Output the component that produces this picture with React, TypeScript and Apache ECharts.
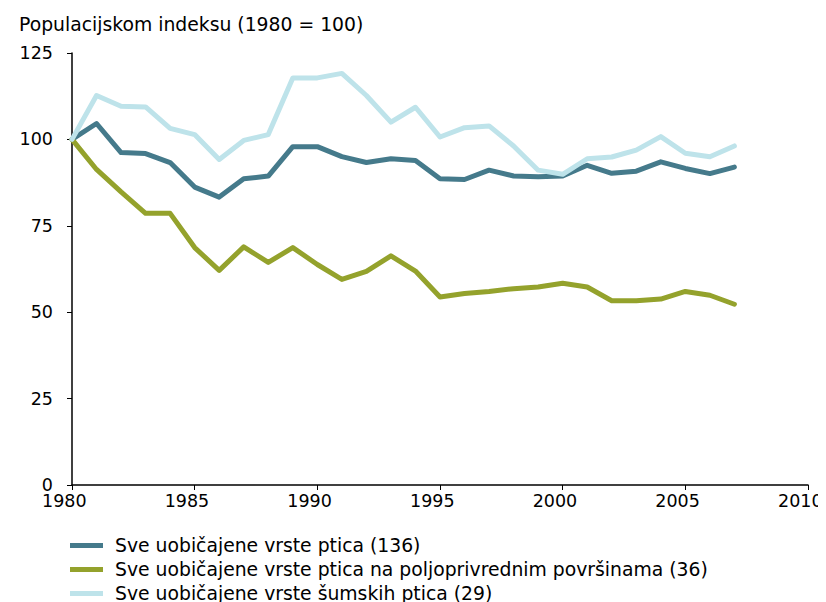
import React, { useEffect, useRef } from "react";
import * as echarts from "echarts";

const years = [1980, 1981, 1982, 1983, 1984, 1985, 1986, 1987, 1988, 1989, 1990, 1991, 1992, 1993, 1994, 1995, 1996, 1997, 1998, 1999, 2000, 2001, 2002, 2003, 2004, 2005, 2006, 2007];
const allBirds = [100, 104.6, 96.2, 95.9, 93.3, 86.2, 83.3, 88.6, 89.4, 97.9, 97.9, 95.0, 93.3, 94.4, 93.9, 88.6, 88.4, 91.1, 89.4, 89.2, 89.4, 92.5, 90.2, 90.8, 93.5, 91.6, 90.1, 92.0];
const farmBirds = [100, 91.3, 84.8, 78.6, 78.6, 68.7, 62.1, 68.9, 64.4, 68.7, 63.8, 59.5, 61.8, 66.3, 61.9, 54.4, 55.4, 56.0, 56.8, 57.3, 58.4, 57.3, 53.3, 53.3, 53.8, 56.0, 54.9, 52.3];
const forestBirds = [100, 112.7, 109.6, 109.4, 103.2, 101.4, 94.2, 99.7, 101.4, 117.8, 117.8, 119.1, 112.7, 105.0, 109.3, 100.7, 103.4, 103.9, 98.1, 91.1, 89.9, 94.4, 94.9, 96.9, 100.8, 96.0, 95.0, 98.1];
const seriesNames = [
  "Sve uobičajene vrste ptica (136)",
  "Sve uobičajene vrste ptica na poljoprivrednim površinama (36)",
  "Sve uobičajene vrste šumskih ptica (29)",
];
const yAxisTitle = "Populacijskom indeksu (1980 = 100)";

const FONT = "DejaVu Sans, Verdana, sans-serif";
const W = 818;
const H = 640;

export default function App() {
  const ref = useRef<HTMLDivElement>(null);
  useEffect(() => {
    if (!ref.current) return;
    const chart = echarts.init(ref.current, null, { renderer: "svg" });
    const mk = (name: string, vals: number[], color: string) => ({
      name,
      type: "line",
      data: years.map((y, i) => [y, vals[i]]),
      showSymbol: false,
      symbol: "none",
      lineStyle: { color, width: 5, join: "round", cap: "round" },
      itemStyle: { color },
      z: 2,
    });
    chart.setOption({
      animation: false,
      backgroundColor: "#ffffff",
      textStyle: { fontFamily: FONT },
      grid: {
        left: 64,
        right: W - 800,
        top: 45,
        bottom: H - 477,
        containLabel: false,
        outerBoundsMode: "none",
      },
      title: {
        text: yAxisTitle,
        left: 6,
        top: 2,
        textStyle: { fontFamily: FONT, fontSize: 18.8, fontWeight: "normal", color: "#000" },
      },
      legend: {
        orient: "vertical",
        left: 62,
        top: 528,
        padding: 0,
        itemWidth: 33,
        itemHeight: 5,
        itemGap: 5,
        icon: "rect",
        textStyle: { fontFamily: FONT, fontSize: 18.8, color: "#000", padding: [0, 0, 0, 7] },
        data: seriesNames,
      },
      xAxis: {
        type: "value",
        min: 1980,
        max: 2010,
        interval: 5,
        axisLine: { show: true, lineStyle: { color: "#000", width: 1.5 } },
        axisTick: { show: true, length: 5, lineStyle: { color: "#000" } },
        axisLabel: {
          color: "#000",
          fontSize: 17.5,
          fontFamily: FONT,
          margin: 7,
          formatter: (v: number) => `{t|${v}}`,
          rich: {
            t: { fontSize: 17.5, fontFamily: FONT, color: "#000", width: 60, align: "left" },
          },
        },
        splitLine: { show: false },
      },
      yAxis: {
        type: "value",
        min: 0,
        max: 125,
        interval: 25,
        axisLine: { show: true, lineStyle: { color: "#000", width: 1.5 } },
        axisTick: { show: true, length: 5, lineStyle: { color: "#000" } },
        axisLabel: { color: "#000", fontSize: 17.5, fontFamily: FONT, margin: 19 },
        splitLine: { show: false },
      },
      series: [
        mk(seriesNames[0], allBirds, "#457A8B"),
        mk(seriesNames[1], farmBirds, "#94A22C"),
        mk(seriesNames[2], forestBirds, "#BEE3EA"),
      ],
    });
    return () => chart.dispose();
  }, []);
  return <div ref={ref} style={{ width: W, height: H }} />;
}
